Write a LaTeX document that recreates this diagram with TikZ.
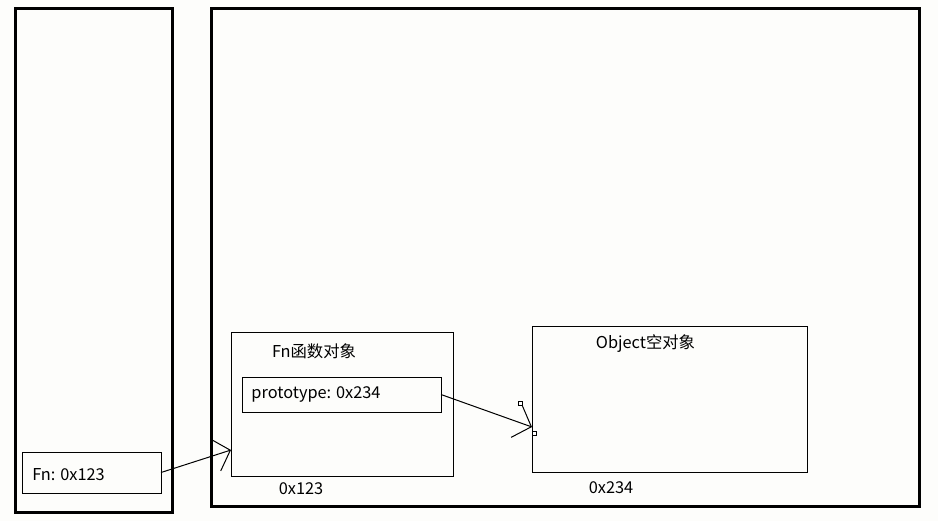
\documentclass[tikz,border=0pt]{standalone}
\usepackage{fontspec}
\setmainfont{Noto Sans CJK SC}
\usetikzlibrary{arrows.meta}
\definecolor{paper}{RGB}{253,253,251}
\tikzset{
	box/.style={draw, inner sep=0pt, outer sep=0pt, line width=0.2mm},
	wall/.style={draw, inner sep=0pt, outer sep=0pt, line width=0.6mm},
	lbl/.style={inner sep=0pt, font=\fontsize{9.3}{11}\selectfont},
	ptr/.style={line width=0.2mm, -{Straight Barb[length=3.1mm, width=6.7mm, line width=0.2mm]}},
	handle/.style={line width=0.15mm, fill=white}
}

\begin{document}
\begin{tikzpicture}[x=0.2mm, y=-0.2mm]
			%%%%% START %%%%%
			
			\fill[paper] (0, 0) rectangle (938, 521);
			\useasboundingbox (0, 0) rectangle (938, 521);
			
			\node[wall, minimum width=31.2mm, minimum height=100.8mm] (stack) at (94, 260.5) {};
			\node[wall, minimum width=141.5mm, minimum height=99.6mm] (heap) at (565.25, 257) {};
			
			\node[box, minimum width=27.6mm, minimum height=8.2mm] (fnvar) at (92, 472.5) {};
			\node[lbl] (fnvartext) at (68.5, 475) {Fn: 0x123};
			
			\node[box, minimum width=44.4mm, minimum height=28.8mm] (fnobj) at (342, 404) {};
			\node[lbl] (fnobjtext) at (314, 351) {Fn函数对象};
			\node[box, minimum width=39.8mm, minimum height=7mm] (proto) at (341.5, 394.5) {};
			\node[lbl] (prototext) at (316, 394) {prototype: 0x234};
			\node[lbl] (fnaddr) at (301, 489) {0x123};
			
			\node[box, minimum width=55mm, minimum height=29.2mm] (objbox) at (669.5, 399) {};
			\node[lbl] (objtext) at (645.5, 344) {Object空对象};
			\node[lbl] (objaddr) at (611, 488) {0x234};
			
			\draw[ptr] (fnvar.east) -- (fnobj.west |- 0, 450);
			\draw[ptr] (proto.east) -- (objbox.west |- 0, 427);
			
			\draw[handle] (518, 401) rectangle (522, 405);
			\draw[handle] (532, 431) rectangle (536, 435);
			
			%%%%% END %%%%%
		\end{tikzpicture}
\end{document}
